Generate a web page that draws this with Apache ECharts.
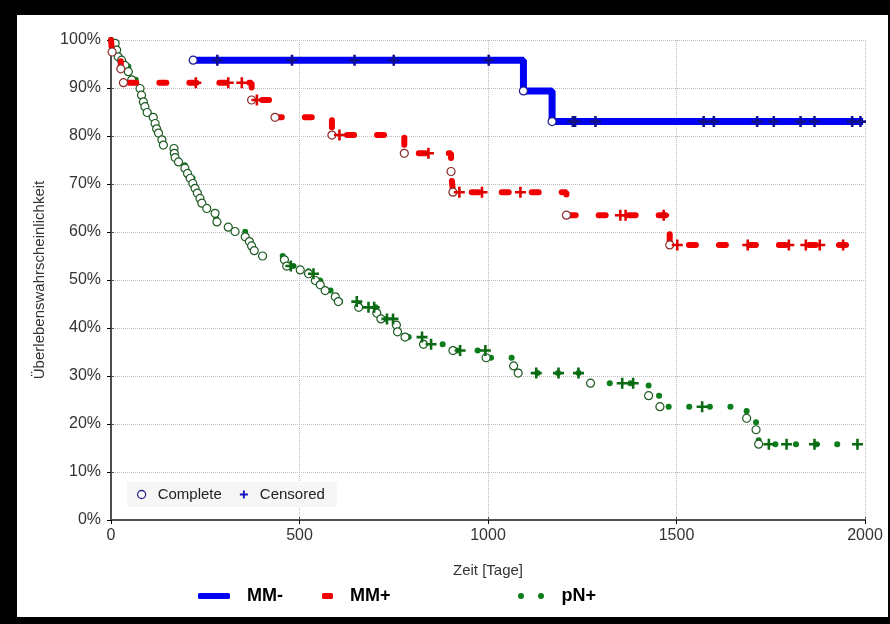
<!DOCTYPE html>
<html>
<head>
<meta charset="utf-8">
<script src="https://cdn.jsdelivr.net/npm/echarts@6/dist/echarts.min.js"></script>
<style>
  html, body { margin: 0; padding: 0; background: #fff; }
  #chart { position: absolute; left: 0; top: 0; width: 890px; height: 624px; }
  #frame {
    position: absolute; left: 0; top: 0; width: 890px; height: 624px; box-sizing: border-box;
    border-top: 15px solid #000; border-left: 17px solid #000;
    border-right: 2px solid #000; border-bottom: 7px solid #000;
    pointer-events: none;
  }
</style>
</head>
<body>
<div id="chart"></div>
<div id="frame"></div>
<script>
// Achsen
const xMin = 0, xMax = 2000, xStep = 500;
const yMin = 0, yMax = 100, yStep = 10;

// MM- (blau)
const blueTimes = [218, 1094, 1170];
const blueSurv = [95.8, 89.4, 83.0];
const blueCens = [282, 480, 646, 750, 1002, 1225, 1231, 1285, 1572, 1599, 1714, 1758, 1829, 1866, 1966, 1988];
const blueEnd = 1995;

// MM+ (rot)
const redTimes = [3, 26, 33, 373, 435, 586, 778, 902, 907, 1208, 1482];
const redSurv = [97.5, 94.0, 91.1, 87.5, 83.9, 80.2, 76.4, 72.6, 68.3, 63.5, 57.3];
const redCens = [225, 311, 347, 387, 606, 842, 924, 984, 1086, 1351, 1365, 1466, 1502, 1689, 1798, 1843, 1880, 1942];
const redEnd = 1957;

// pN+ (gruen)
const greenTimes = [11, 15, 19, 28, 37, 46, 55, 77, 81, 86, 90, 96, 112, 117, 121, 126, 135, 139,
    167, 168, 170, 179, 196, 203, 210, 217, 223, 229, 236, 241, 254, 276, 281, 311, 329, 356, 367,
    373, 380, 402, 460, 466, 502, 524, 542, 555, 568, 595, 603, 657, 705, 716, 757, 760, 780, 829,
    907, 995, 1068, 1080, 1272, 1426, 1456, 1686, 1711, 1718];
const greenSurv = [99.3, 97.9, 96.5, 95.8, 94.7, 93.4, 91.7, 89.9, 88.5, 87.1, 86.1, 84.9, 83.9, 82.6,
    81.5, 80.6, 79.2, 78.1, 77.4, 76.4, 75.5, 74.6, 73.3, 72.2, 71.2, 70.1, 69.1, 68.1, 67.0, 66.0,
    64.9, 63.9, 62.1, 61.0, 60.1, 59.0, 58.0, 57.1, 56.1, 55.0, 54.2, 52.9, 52.1, 51.3, 49.9, 49.0,
    47.8, 46.5, 45.5, 44.3, 43.1, 41.9, 40.6, 39.2, 38.1, 36.6, 35.3, 33.8, 32.1, 30.6, 28.5, 25.9,
    23.6, 21.2, 18.8, 15.8];
const greenCens = [477, 537, 652, 683, 698, 732, 748, 825, 849, 926, 993, 1128, 1187, 1240, 1356, 1385,
    1568, 1745, 1792, 1866, 1980];
const greenEnd = 1980;

const plusPath = 'path://M4.6,0h2.8v4.6h4.6v2.8h-4.6v4.6h-2.8v-4.6h-4.6v-2.8h4.6z';
const dotsPath = 'path://M0,3a3,3 0 1,0 6,0a3,3 0 1,0 -6,0zM20,3a3,3 0 1,0 6,0a3,3 0 1,0 -6,0z';
const font = '"Liberation Sans", Arial, sans-serif';

// Stufenwert zum Zeitpunkt t (fuer die zensierten Marken)
function levelAt(times, surv, t, start) {
    let v = start;
    for (let i = 0; i < times.length; i++) {
        if (times[i] <= t) v = surv[i];
    }
    return v;
}

function stepData(times, surv, start, end) {
    let d = [];
    if (start != null) d.push([0, start]);
    times.forEach((t, i) => d.push([t, surv[i]]));
    d.push([end, surv[surv.length - 1]]);
    return d;
}

function groupSeries(name, times, surv, cens, start, end, lineStyle, ringColor, plusColor, z) {
    return [
        {
            name: name, type: 'line', step: 'end', showSymbol: false, symbol: 'none',
            data: stepData(times, surv, start, end),
            lineStyle: lineStyle, itemStyle: { color: lineStyle.color }, z: z
        },
        {
            name: 'Complete', type: 'scatter', symbol: 'circle', symbolSize: 8,
            data: times.map((t, i) => [t, surv[i]]),
            itemStyle: { color: '#fff', borderColor: ringColor, borderWidth: 1.2, opacity: 1 },
            z: z + 1
        },
        {
            name: 'Censored', type: 'scatter', symbol: plusPath, symbolSize: 11,
            data: cens.map(t => [t, levelAt(times, surv, t, start == null ? surv[0] : start)]),
            itemStyle: { color: plusColor, opacity: 1 }, z: z + 2
        }
    ];
}

let chart = echarts.init(document.getElementById('chart'));

let series = [].concat(
    groupSeries('pN+', greenTimes, greenSurv, greenCens, 100, greenEnd,
        { color: '#0b7d1b', width: 6, type: [0.1, 20.5], cap: 'round' }, '#1d5a22', '#0b6a14', 2),
    groupSeries('MM+', redTimes, redSurv, redCens, 100, redEnd,
        { color: '#f00000', width: 6, type: [7, 23], cap: 'round' }, '#8a2a2a', '#e00000', 5),
    groupSeries('MM-', blueTimes, blueSurv, blueCens, null, blueEnd,
        { color: '#0000f5', width: 7 }, '#1a1a8a', '#10108a', 8)
);

const bigText = { fontFamily: font, fontSize: 18, fontWeight: 'bold', color: '#000', padding: [0, 0, 0, 12] };

chart.setOption({
    animation: false,
    backgroundColor: '#fff',
    grid: { left: 111, right: 25, top: 40, bottom: 104, show: true, backgroundColor: '#fff', borderWidth: 0 },
    legend: [
        {
            data: [
                { name: 'Complete', icon: 'circle', itemStyle: { color: '#fff', borderColor: '#262680', borderWidth: 1.3 } },
                { name: 'Censored', icon: plusPath, itemStyle: { color: '#1010c0' } }
            ],
            left: 127, top: 482, itemWidth: 8, itemHeight: 8, itemGap: 18,
            padding: [5, 12, 5, 10], backgroundColor: '#f6f6f6', selectedMode: false,
            textStyle: { fontFamily: font, fontSize: 15, color: '#222', padding: [0, 0, 0, 7] }
        },
        {
            data: [{ name: 'MM-', icon: 'roundRect', itemStyle: { color: '#0000f5' } }],
            left: 198, top: 587, itemWidth: 32, itemHeight: 6, padding: 0, selectedMode: false,
            textStyle: bigText
        },
        {
            data: [{ name: 'MM+', icon: 'roundRect', itemStyle: { color: '#f00000' } }],
            left: 322, top: 587, itemWidth: 11, itemHeight: 6, padding: 0, selectedMode: false,
            textStyle: bigText
        },
        {
            data: [{ name: 'pN+', icon: dotsPath, itemStyle: { color: '#0b7d1b' } }],
            left: 518, top: 587, itemWidth: 27, itemHeight: 6, padding: 0, selectedMode: false,
            textStyle: bigText
        }
    ],
    xAxis: [
        {
            type: 'value', min: xMin, max: xMax, interval: xStep,
            name: 'Zeit [Tage]', nameLocation: 'middle', nameGap: 43,
            nameTextStyle: { fontFamily: font, fontSize: 15, color: '#333' },
            axisLine: { show: true, lineStyle: { color: '#000', width: 1.5 } },
            axisTick: { show: true, length: 4, lineStyle: { color: '#000' } },
            axisLabel: { fontFamily: font, fontSize: 16, color: '#333', margin: 8, formatter: v => String(v) },
            splitLine: { show: true, lineStyle: { type: 'dotted', color: '#bdbdbd', width: 1 } }
        },
        {
            type: 'value', min: xMin, max: xMax, interval: xStep, position: 'top',
            axisLine: { show: true, lineStyle: { color: '#555', width: 1.5 } },
            axisTick: { show: true, length: 3, lineStyle: { color: '#555' } },
            axisLabel: { show: false }, splitLine: { show: false }
        }
    ],
    yAxis: [
        {
            type: 'value', min: yMin, max: yMax, interval: yStep,
            name: 'Überlebenswahrscheinlichkeit', nameLocation: 'middle', nameGap: 64,
            nameTextStyle: { fontFamily: font, fontSize: 15, color: '#333' },
            axisLine: { show: true, lineStyle: { color: '#000', width: 1.5 } },
            axisTick: { show: true, length: 4, lineStyle: { color: '#000' } },
            axisLabel: { fontFamily: font, fontSize: 16, color: '#333', margin: 10, formatter: '{value}%' },
            splitLine: { show: true, lineStyle: { type: 'dotted', color: '#bdbdbd', width: 1 } }
        },
        {
            type: 'value', min: yMin, max: yMax, interval: yStep, position: 'right',
            axisLine: { show: true, lineStyle: { color: '#555', width: 1.5 } },
            axisTick: { show: true, length: 3, lineStyle: { color: '#555' } },
            axisLabel: { show: false }, splitLine: { show: false }
        }
    ],
    series: series
});
</script>
</body>
</html>
